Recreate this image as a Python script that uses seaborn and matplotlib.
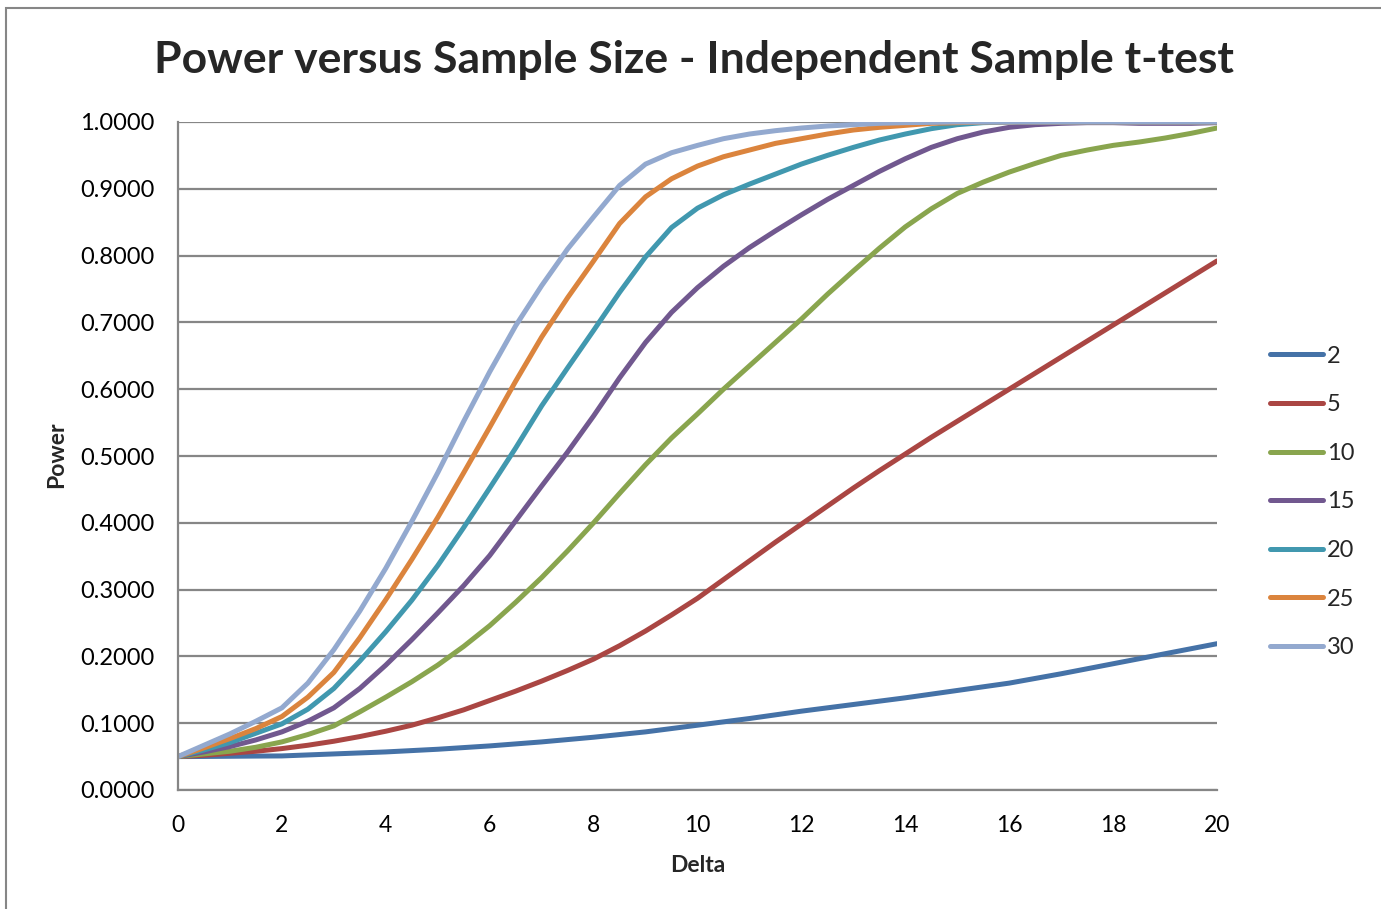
import numpy as np
import pandas as pd
import matplotlib
matplotlib.use("Agg")
import matplotlib.pyplot as plt
from matplotlib.patches import Rectangle
import seaborn as sns

# ---- data (every 0.5 of Delta) ----
delta = [i / 2 for i in range(41)]
n2 = [0.050, 0.0502, 0.0505, 0.0508, 0.051, 0.0525, 0.054, 0.0555, 0.057, 0.059,
      0.061, 0.0635, 0.066, 0.069, 0.072, 0.0755, 0.079, 0.083, 0.087, 0.092,
      0.097, 0.102, 0.107, 0.1125, 0.118, 0.123, 0.128, 0.133, 0.138, 0.1435,
      0.149, 0.1545, 0.160, 0.167, 0.174, 0.1815, 0.189, 0.1965, 0.204, 0.2115,
      0.219]
n5 = [0.050, 0.052, 0.055, 0.058, 0.062, 0.067, 0.073, 0.080, 0.088, 0.097,
      0.108, 0.120, 0.134, 0.148, 0.163, 0.179, 0.196, 0.216, 0.238, 0.262,
      0.287, 0.315, 0.343, 0.371, 0.398, 0.425, 0.452, 0.478, 0.503, 0.528,
      0.552, 0.576, 0.600, 0.624, 0.648, 0.672, 0.696, 0.720, 0.744, 0.768,
      0.792]
n10 = [0.050, 0.054, 0.058, 0.064, 0.072, 0.083, 0.096, 0.117, 0.139, 0.162,
       0.187, 0.215, 0.246, 0.281, 0.318, 0.358, 0.400, 0.444, 0.487, 0.527,
       0.563, 0.600, 0.635, 0.670, 0.705, 0.742, 0.777, 0.811, 0.843, 0.870,
       0.893, 0.910, 0.925, 0.938, 0.950, 0.958, 0.965, 0.970, 0.976, 0.983,
       0.991]
n15 = [0.050, 0.057, 0.065, 0.075, 0.087, 0.103, 0.123, 0.152, 0.187, 0.225,
       0.265, 0.306, 0.351, 0.403, 0.455, 0.506, 0.560, 0.617, 0.670, 0.715,
       0.752, 0.784, 0.812, 0.837, 0.861, 0.884, 0.905, 0.926, 0.945, 0.962,
       0.975, 0.985, 0.992, 0.996, 0.998, 0.999, 0.999, 0.998, 0.998, 0.998,
       0.999]
n20 = [0.050, 0.060, 0.071, 0.085, 0.099, 0.121, 0.152, 0.193, 0.237, 0.284,
       0.336, 0.393, 0.452, 0.512, 0.575, 0.632, 0.688, 0.745, 0.798, 0.842,
       0.871, 0.891, 0.907, 0.922, 0.937, 0.950, 0.962, 0.973, 0.982, 0.990,
       0.996, 0.999, 1.000, 1.000, 1.000, 1.000, 1.000, 1.000, 1.000, 1.000,
       1.000]
n25 = [0.050, 0.063, 0.077, 0.092, 0.110, 0.139, 0.176, 0.228, 0.285, 0.345,
       0.408, 0.475, 0.543, 0.612, 0.678, 0.737, 0.792, 0.848, 0.888, 0.915,
       0.934, 0.948, 0.958, 0.968, 0.975, 0.982, 0.988, 0.992, 0.995, 0.998,
       0.999, 1.000, 1.000, 1.000, 1.000, 1.000, 1.000, 1.000, 1.000, 1.000,
       1.000]
n30 = [0.050, 0.067, 0.084, 0.103, 0.123, 0.160, 0.210, 0.268, 0.332, 0.402,
       0.475, 0.552, 0.626, 0.695, 0.755, 0.810, 0.858, 0.905, 0.937, 0.954,
       0.965, 0.975, 0.982, 0.987, 0.991, 0.994, 0.996, 0.998, 0.999, 0.9995,
       1.000, 1.000, 1.000, 1.000, 1.000, 1.000, 1.000, 1.000, 1.000, 1.000,
       1.000]
sample_sizes = ["2", "5", "10", "15", "20", "25", "30"]
series = [n2, n5, n10, n15, n20, n25, n30]
colors = ["#4572A7", "#AA4643", "#89A54E", "#71588F", "#4198AF", "#DB843D", "#93A9CF"]
y_ticks = [0.0, 0.1, 0.2, 0.3, 0.4, 0.5, 0.6, 0.7, 0.8, 0.9, 1.0]
x_ticks = [0, 2, 4, 6, 8, 10, 12, 14, 16, 18, 20]

title = "Power versus Sample Size - Independent Sample t-test"

df = pd.concat(
    [pd.DataFrame({"Delta": delta, "Power": vals, "n": name})
     for name, vals in zip(sample_sizes, series)],
    ignore_index=True,
)

sns.set_theme(style="white")
plt.rcParams["font.family"] = ["Lato", "DejaVu Sans"]

W, H = 1381, 909
fig = plt.figure(figsize=(W / 100, H / 100), dpi=100)
ax = fig.add_axes([178 / W, 1 - 790 / H, (1217 - 178) / W, (790 - 122) / H])

sns.lineplot(data=df, x="Delta", y="Power", hue="n", hue_order=sample_sizes,
             palette=colors, linewidth=3.6, ax=ax, legend=True,
             solid_capstyle="round", solid_joinstyle="round")

ax.set_xlim(0, 20)
ax.set_ylim(0, 1)
ax.set_xticks(x_ticks)
ax.set_yticks(y_ticks)
ax.set_xticklabels([str(t) for t in x_ticks], fontsize=16.5)
ax.set_yticklabels([f"{t:.4f}" for t in y_ticks], fontsize=17)
ax.tick_params(axis="both", length=0, colors="black")
ax.tick_params(axis="y", pad=17)
ax.tick_params(axis="x", pad=18)

ax.yaxis.grid(True, color="#868686", linewidth=1.6)
ax.xaxis.grid(False)
ax.set_axisbelow(True)
for side in ["top", "right"]:
    ax.spines[side].set_visible(False)
for side in ["left", "bottom"]:
    ax.spines[side].set_color("#868686")
    ax.spines[side].set_linewidth(1.6)

ax.set_xlabel("Delta", fontsize=16.5, fontweight="bold")
ax.set_ylabel("Power", fontsize=16.5, fontweight="bold")
ax.xaxis.label.set_va("center")
ax.yaxis.label.set_va("center")
ax.xaxis.set_label_coords(698 / W, 1 - 865 / H, transform=fig.transFigure)
ax.yaxis.set_label_coords(57 / W, 1 - 455 / H, transform=fig.transFigure)

handles, labels = ax.get_legend_handles_labels()
leg = ax.legend(handles, labels, loc="center left",
                bbox_to_anchor=(1270 / W, 1 - 502 / H), bbox_transform=fig.transFigure,
                frameon=False, fontsize=17, handlelength=2.25, handletextpad=0.15,
                labelspacing=1.17, borderpad=0, borderaxespad=0)
for h in leg.get_lines():
    h.set_solid_capstyle("round")

fig.text(694 / W, 1 - 60 / H, title, ha="center", va="center",
         fontsize=32, fontweight="bold")

fig.patches.append(Rectangle((6 / W, -0.05), 1.2, 1.05 - 8 / H,
                             transform=fig.transFigure, fill=False,
                             edgecolor="#868686", linewidth=1.5))

fig.savefig("out.png", dpi=100)
